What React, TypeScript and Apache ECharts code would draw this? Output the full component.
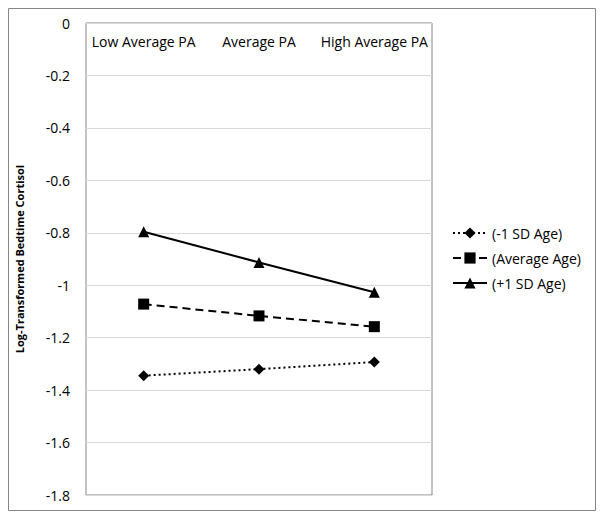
import React, { useEffect, useRef } from "react";
import * as echarts from "echarts";

const categories = ["Low Average PA", "Average PA", "High Average PA"];
const seriesNames = ["(-1 SD Age)", "(Average Age)", "(+1 SD Age)"];
const minusOneSD = [-1.345, -1.32, -1.293];
const averageAge = [-1.072, -1.117, -1.158];
const plusOneSD = [-0.796, -0.913, -1.027];
const yTicks = { min: -1.8, max: 0, interval: 0.2 };

const FONT = "'Open Sans', 'Liberation Sans', sans-serif";

export default function App() {
  const ref = useRef<HTMLDivElement>(null);
  useEffect(() => {
    if (!ref.current) return;
    const chart = echarts.init(ref.current, undefined, { renderer: "svg" });
    chart.setOption({
      animation: false,
      backgroundColor: "#fff",
      graphic: [
        {
          type: "rect",
          shape: { x: 8.5, y: 8.5, width: 587, height: 502 },
          style: { fill: "none", stroke: "#868686", lineWidth: 1 },
          silent: true,
        },
      ],
      grid: {
        left: 86,
        top: 23,
        width: 346,
        height: 472,
        show: true,
        borderColor: "#868686",
        borderWidth: 1,
        containLabel: false,
      },
      legend: {
        orient: "vertical",
        left: 452,
        top: 226,
        padding: 0,
        itemWidth: 34,
        itemHeight: 14,
        itemGap: 11,
        data: seriesNames,
        textStyle: { fontFamily: FONT, fontSize: 14, color: "#000" },
      },
      xAxis: {
        type: "category",
        data: categories,
        position: "top",
        axisLine: { show: false },
        axisTick: { show: false },
        splitLine: { show: false },
        axisLabel: {
          inside: true,
          interval: 0,
          hideOverlap: false,
          margin: 11,
          fontFamily: FONT,
          fontSize: 14,
          color: "#000",
        },
      },
      yAxis: {
        type: "value",
        min: yTicks.min,
        max: yTicks.max,
        interval: yTicks.interval,
        name: "Log-Transformed Bedtime Cortisol",
        nameLocation: "middle",
        nameRotate: 90,
        nameGap: 61,
        nameTextStyle: {
          fontFamily: FONT,
          fontSize: 11,
          fontWeight: "bold",
          color: "#000",
        },
        axisLine: { show: false },
        axisTick: { show: false },
        splitLine: { lineStyle: { color: "#d9d9d9", width: 1 } },
        axisLabel: {
          margin: 16,
          fontFamily: FONT,
          fontSize: 14,
          color: "#000",
          formatter: (v: number) => String(Math.round(v * 10) / 10),
        },
      },
      series: [
        {
          name: seriesNames[0],
          type: "line",
          data: minusOneSD,
          symbol: "diamond",
          symbolSize: 11,
          itemStyle: { color: "#000" },
          lineStyle: { color: "#000", width: 2, type: [2, 3] },
        },
        {
          name: seriesNames[1],
          type: "line",
          data: averageAge,
          symbol: "rect",
          symbolSize: 11,
          itemStyle: { color: "#000" },
          lineStyle: { color: "#000", width: 2, type: [8, 5] },
        },
        {
          name: seriesNames[2],
          type: "line",
          data: plusOneSD,
          symbol: "triangle",
          symbolSize: 11,
          itemStyle: { color: "#000" },
          lineStyle: { color: "#000", width: 2 },
        },
      ],
    });
    return () => chart.dispose();
  }, []);
  return (
    <div
      ref={ref}
      style={{ position: "absolute", left: 0, top: 0, width: 604, height: 519 }}
    />
  );
}
